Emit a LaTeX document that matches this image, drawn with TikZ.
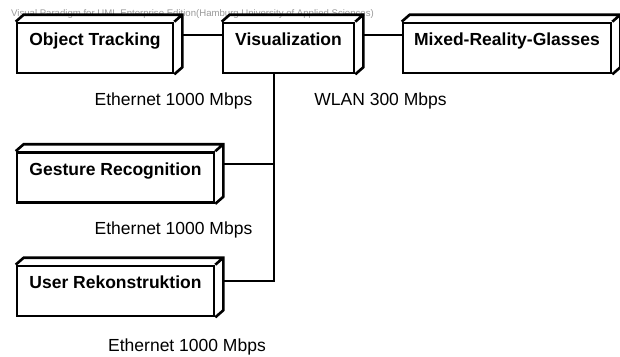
\documentclass[tikz,border=0pt]{standalone}
\usepackage{fontspec}
\setmainfont{Liberation Sans}
\begin{document}
\begin{tikzpicture}[x=1pt,y=-1pt,
  device/.style={draw, line width=2.6pt, inner sep=0pt, minimum height=50pt,
    text height=22.5pt, text depth=27.5pt,
    font=\fontsize{17.5}{20}\selectfont\bfseries},
  face/.style={line width=2.6pt},
  conn/.style={line width=1.7pt},
  lbl/.style={inner sep=0pt, font=\fontsize{17.5}{20}\selectfont},
  wm/.style={inner sep=0pt, text=black!40, font=\fontsize{9.6}{11}\selectfont}]
\useasboundingbox (0,0) rectangle (620,356);

% tool watermark along the top edge
\node[wm] (wm) at (192.5,14) {Visual Paradigm for UML Enterprise Edition(Hamburg University of Applied Sciences)};

% deployment nodes (front faces)
\node[device, minimum width=156pt] (ot)  at (95,48)    {Object Tracking};
\node[device, minimum width=131pt] (vis) at (288.5,48) {Visualization};
\node[device, minimum width=208pt] (mix) at (507,48)   {Mixed-Reality-Glasses};
\node[device, minimum width=197pt] (ges) at (115.5,177.5) {Gesture Recognition};
\node[device, minimum width=197pt] (usr) at (115.5,291) {User Rekonstruktion};

% top and side faces of the 3D boxes (back edges sit up and to the right)
\foreach \n in {ot,vis,mix,ges,usr}
  \draw[face] (\n.north west) -- ++(8pt,7pt) -| ([shift={(8pt,7pt)}]\n.south east)
    -- (\n.south east) (\n.north east) -- ++(8pt,7pt);

% communication paths
\coordinate (bus) at ([xshift=-14.5pt]vis.south);
\coordinate (gesport) at ([shift={(8pt,-13pt)}]ges.north east);
\coordinate (usrport) at ([shift={(8pt,-16pt)}]usr.north east);
\draw[conn] ([shift={(8pt,-13pt)}]ot.north east) -- ([yshift=-13pt]vis.north west);
\draw[conn] ([shift={(8pt,-13pt)}]vis.north east) -- ([yshift=-13pt]mix.north west);
\draw[conn] (bus) |- (usrport);
\draw[conn] (gesport) -- (bus |- gesport);

% link labels
\node[lbl] (l1) at (173.5,101) {Ethernet 1000 Mbps};
\node[lbl] (l2) at (380.5,101) {WLAN 300 Mbps};
\node[lbl] (l3) at (173.5,230) {Ethernet 1000 Mbps};
\node[lbl] (l4) at (187,347)   {Ethernet 1000 Mbps};
\end{tikzpicture}
\end{document}
